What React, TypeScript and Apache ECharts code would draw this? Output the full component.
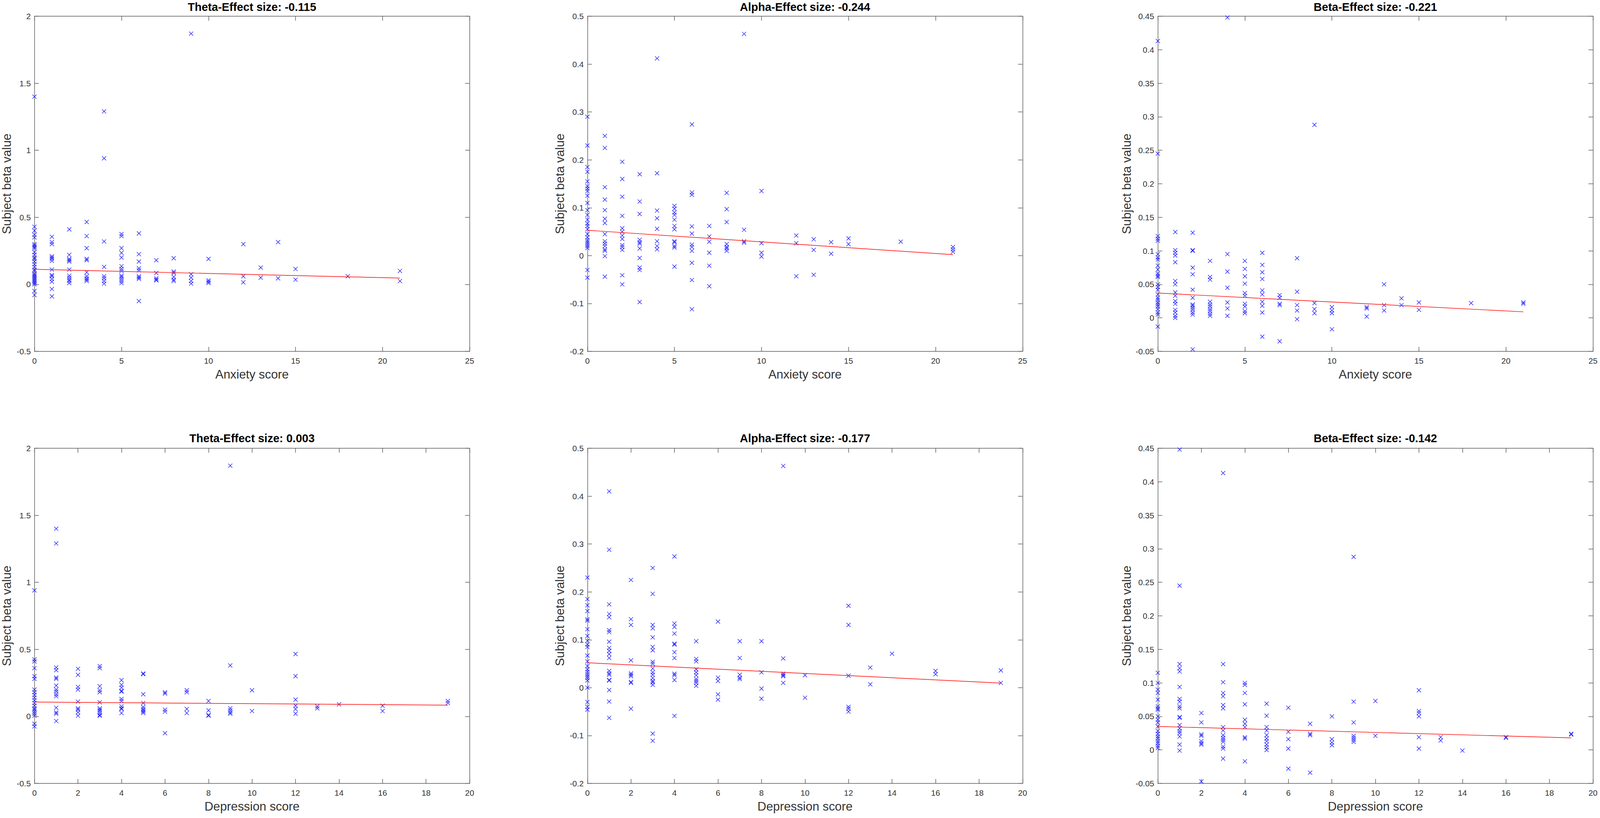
import React, { useEffect, useRef } from "react";
import * as echarts from "echarts";

type Column = [number, number[]];

// ---------- Tick / axis ranges ----------
const anxietyAxis = { min: 0, max: 25, interval: 5, name: "Anxiety score" };
const depressionAxis = { min: 0, max: 20, interval: 2, name: "Depression score" };
const thetaAxis = { min: -0.5, max: 2, interval: 0.5 };
const alphaAxis = { min: -0.2, max: 0.5, interval: 0.1 };
const betaAxis = { min: -0.05, max: 0.45, interval: 0.05 };

// ---------- Titles ----------
const titles = [
  "Theta-Effect size: -0.115",
  "Alpha-Effect size: -0.244",
  "Beta-Effect size: -0.221",
  "Theta-Effect size: 0.003",
  "Alpha-Effect size: -0.177",
  "Beta-Effect size: -0.142",
];

// ---------- Data: [score, subject beta values at that score] ----------
const thetaAnxiety: Column[] = [
  [0, [1.4, 0.43, 0.4, 0.37, 0.35, 0.3, 0.29, 0.28, 0.27, 0.24, 0.22, 0.2, 0.19, 0.17, 0.15, 0.13, 0.11, 0.1, 0.08, 0.07, 0.06, 0.05, 0.04, 0.03, 0.02, 0.01, 0.0, -0.05, -0.08]],
  [1, [0.355, 0.315, 0.3, 0.21, 0.2, 0.19, 0.175, 0.11, 0.07, 0.06, 0.04, 0.02, -0.035, -0.09]],
  [2, [0.41, 0.22, 0.19, 0.18, 0.17, 0.11, 0.065, 0.05, 0.035, 0.025, 0.01]],
  [3, [0.465, 0.36, 0.27, 0.19, 0.18, 0.09, 0.06, 0.045, 0.035, 0.025]],
  [4, [1.29, 0.94, 0.32, 0.13, 0.06, 0.045, 0.025, 0.005]],
  [5, [0.375, 0.36, 0.27, 0.235, 0.2, 0.135, 0.115, 0.1, 0.065, 0.055, 0.04, 0.025, 0.01]],
  [6, [0.38, 0.225, 0.17, 0.12, 0.105, 0.06, 0.05, 0.04, -0.125]],
  [7, [0.18, 0.085, 0.045, 0.035, 0.03]],
  [8, [0.195, 0.095, 0.085, 0.055, 0.035, 0.025]],
  [9, [1.87, 0.075, 0.05, 0.025, 0.005]],
  [10, [0.19, 0.03, 0.02, 0.01]],
  [12, [0.3, 0.06, 0.015]],
  [13, [0.125, 0.05]],
  [14, [0.315, 0.045]],
  [15, [0.115, 0.035]],
  [18, [0.06]],
  [21, [0.1, 0.025]],
];
const thetaAnxietyFit: [number, number][] = [[0, 0.112], [21, 0.047]];

const alphaAnxiety: Column[] = [
  [0, [0.29, 0.23, 0.185, 0.175, 0.155, 0.145, 0.14, 0.135, 0.125, 0.11, 0.095, 0.085, 0.075, 0.067, 0.062, 0.055, 0.045, 0.038, 0.032, 0.028, 0.024, 0.02, 0.016, -0.03, -0.046]],
  [1, [0.25, 0.225, 0.143, 0.117, 0.095, 0.077, 0.068, 0.045, 0.03, 0.025, 0.02, 0.013, 0.01, -0.001, -0.044]],
  [2, [0.196, 0.16, 0.123, 0.083, 0.057, 0.05, 0.042, 0.035, 0.022, 0.018, 0.012, -0.041, -0.06]],
  [3, [0.17, 0.113, 0.087, 0.033, 0.028, 0.025, 0.015, -0.005, -0.025, -0.03, -0.097]],
  [4, [0.412, 0.172, 0.094, 0.078, 0.056, 0.03, 0.02, 0.013]],
  [5, [0.104, 0.098, 0.09, 0.085, 0.075, 0.062, 0.055, 0.03, 0.028, 0.02, 0.017, -0.023]],
  [6, [0.274, 0.132, 0.127, 0.061, 0.046, 0.023, 0.018, 0.01, -0.015, -0.051, -0.112]],
  [7, [0.062, 0.04, 0.029, 0.006, -0.021, -0.064]],
  [8, [0.131, 0.097, 0.07, 0.024, 0.018, 0.015, 0.01]],
  [9, [0.463, 0.054, 0.03, 0.027]],
  [10, [0.135, 0.026, 0.006, -0.002]],
  [12, [0.042, 0.026, -0.043]],
  [13, [0.034, 0.012, -0.04]],
  [14, [0.028, 0.004]],
  [15, [0.036, 0.024]],
  [18, [0.029]],
  [21, [0.018, 0.013, 0.008]],
];
const alphaAnxietyFit: [number, number][] = [[0, 0.053], [21, 0.002]];

const betaAnxiety: Column[] = [
  [0, [0.413, 0.245, 0.122, 0.118, 0.115, 0.095, 0.09, 0.087, 0.078, 0.072, 0.066, 0.063, 0.061, 0.05, 0.046, 0.042, 0.035, 0.03, 0.027, 0.023, 0.02, 0.017, 0.013, 0.008, 0.005, -0.013]],
  [1, [0.128, 0.101, 0.097, 0.093, 0.083, 0.055, 0.05, 0.038, 0.033, 0.025, 0.021, 0.012, 0.008, 0.003, 0.0]],
  [2, [0.127, 0.101, 0.1, 0.075, 0.065, 0.042, 0.03, 0.02, 0.018, 0.015, 0.012, 0.008, 0.005, -0.047]],
  [3, [0.085, 0.061, 0.057, 0.024, 0.02, 0.017, 0.013, 0.01, 0.006, 0.003]],
  [4, [0.448, 0.095, 0.069, 0.045, 0.023, 0.014, 0.003]],
  [5, [0.085, 0.073, 0.062, 0.051, 0.037, 0.033, 0.021, 0.017, 0.01, 0.007]],
  [6, [0.097, 0.079, 0.068, 0.058, 0.041, 0.035, 0.024, 0.018, 0.008, -0.028]],
  [7, [0.034, 0.03, 0.021, 0.019, -0.035]],
  [8, [0.089, 0.039, 0.019, 0.011, -0.002]],
  [9, [0.288, 0.022, 0.013, 0.007]],
  [10, [0.016, 0.011, 0.007, -0.017]],
  [12, [0.016, 0.014, 0.002]],
  [13, [0.05, 0.019, 0.011]],
  [14, [0.029, 0.019]],
  [15, [0.023, 0.012]],
  [18, [0.022]],
  [21, [0.023, 0.021]],
];
const betaAnxietyFit: [number, number][] = [[0, 0.037], [21, 0.009]];

const thetaDepression: Column[] = [
  [0, [0.94, 0.425, 0.41, 0.36, 0.3, 0.28, 0.2, 0.18, 0.16, 0.14, 0.12, 0.1, 0.08, 0.06, 0.05, 0.035, 0.02, 0.005, -0.055, -0.075]],
  [1, [1.4, 1.29, 0.365, 0.345, 0.29, 0.28, 0.23, 0.2, 0.185, 0.165, 0.15, 0.065, 0.03, 0.02, -0.035]],
  [2, [0.355, 0.31, 0.22, 0.2, 0.11, 0.06, 0.05, 0.03, 0.005]],
  [3, [0.375, 0.36, 0.225, 0.195, 0.18, 0.105, 0.06, 0.05, 0.04, 0.025, 0.01, 0.005]],
  [4, [0.27, 0.235, 0.215, 0.19, 0.185, 0.13, 0.115, 0.075, 0.06, 0.055, 0.025]],
  [5, [0.32, 0.315, 0.165, 0.1, 0.07, 0.055, 0.045, 0.035, 0.025]],
  [6, [0.18, 0.17, 0.05, 0.035, -0.125]],
  [7, [0.195, 0.18, 0.055, 0.025]],
  [8, [0.115, 0.045, 0.01, 0.005]],
  [9, [1.87, 0.38, 0.06, 0.045, 0.03, 0.02]],
  [10, [0.195, 0.04]],
  [12, [0.465, 0.3, 0.125, 0.08, 0.055, 0.02]],
  [13, [0.075, 0.06]],
  [14, [0.09]],
  [16, [0.08, 0.04]],
  [19, [0.115, 0.1]],
];
const thetaDepressionFit: [number, number][] = [[0, 0.107], [19, 0.084]];

const alphaDepression: Column[] = [
  [0, [0.23, 0.185, 0.172, 0.16, 0.143, 0.14, 0.122, 0.108, 0.098, 0.09, 0.085, 0.067, 0.055, 0.045, 0.038, 0.033, 0.028, 0.024, 0.02, 0.015, 0.0, -0.03, -0.04, -0.046]],
  [1, [0.41, 0.288, 0.174, 0.154, 0.147, 0.12, 0.116, 0.096, 0.083, 0.077, 0.07, 0.062, 0.035, 0.03, 0.027, 0.016, 0.015, -0.005, -0.029, -0.063]],
  [2, [0.225, 0.143, 0.131, 0.057, 0.03, 0.027, 0.024, 0.012, 0.01, -0.044]],
  [3, [0.25, 0.196, 0.131, 0.124, 0.105, 0.085, 0.078, 0.054, 0.05, 0.04, 0.032, 0.027, 0.02, 0.014, 0.011, 0.006, -0.096, -0.111]],
  [4, [0.274, 0.134, 0.127, 0.113, 0.092, 0.09, 0.074, 0.062, 0.029, 0.026, 0.016, -0.059]],
  [5, [0.097, 0.06, 0.055, 0.038, 0.032, 0.026, 0.018, 0.014, 0.01, 0.004]],
  [6, [0.138, 0.021, 0.014, -0.014, -0.025]],
  [7, [0.097, 0.062, 0.027, 0.021, 0.018]],
  [8, [0.097, 0.032, -0.002, -0.023]],
  [9, [0.463, 0.061, 0.029, 0.026, 0.024, 0.01]],
  [10, [0.026, -0.021]],
  [12, [0.171, 0.131, 0.025, -0.04, -0.044, -0.05]],
  [13, [0.042, 0.007]],
  [14, [0.071]],
  [16, [0.035, 0.028]],
  [19, [0.036, 0.01]],
];
const alphaDepressionFit: [number, number][] = [[0, 0.052], [19, 0.0095]];

const betaDepression: Column[] = [
  [0, [0.115, 0.1, 0.09, 0.085, 0.075, 0.065, 0.062, 0.06, 0.05, 0.045, 0.041, 0.035, 0.028, 0.024, 0.02, 0.017, 0.013, 0.01, 0.006, 0.003]],
  [1, [0.448, 0.245, 0.128, 0.122, 0.117, 0.094, 0.076, 0.072, 0.065, 0.062, 0.049, 0.048, 0.037, 0.032, 0.028, 0.025, 0.02, 0.008, -0.001]],
  [2, [0.055, 0.041, 0.023, 0.021, 0.013, 0.01, 0.008, -0.047]],
  [3, [0.413, 0.128, 0.101, 0.085, 0.08, 0.067, 0.062, 0.034, 0.029, 0.022, 0.018, 0.015, 0.012, 0.005, 0.002, -0.013]],
  [4, [0.1, 0.097, 0.085, 0.068, 0.045, 0.039, 0.034, 0.019, 0.017, -0.017]],
  [5, [0.069, 0.051, 0.034, 0.029, 0.022, 0.017, 0.013, 0.008, 0.004, 0.0]],
  [6, [0.063, 0.027, 0.016, 0.002, -0.028]],
  [7, [0.039, 0.024, 0.022, -0.034]],
  [8, [0.05, 0.016, 0.011, 0.007]],
  [9, [0.288, 0.072, 0.041, 0.021, 0.018, 0.015, 0.012]],
  [10, [0.073, 0.021]],
  [12, [0.089, 0.058, 0.055, 0.05, 0.019, 0.002]],
  [13, [0.019, 0.014]],
  [14, [-0.001]],
  [16, [0.019, 0.018]],
  [19, [0.024, 0.023]],
];
const betaDepressionFit: [number, number][] = [[0, 0.035], [19, 0.018]];

// ---------- Layout (reference pixels, scaled to the real viewport) ----------
const REF_W = 4317;
const REF_H = 2094;
const PANEL_LEFTS = [93, 1585, 3124];
const PANEL_TOPS = [41.5, 1147.5];
const PANEL_W = 1174;
const PANEL_H = 858;
const TITLE_Y = [18, 1122];

const AXIS_COLOR = "#555555";
const TEXT_COLOR = "#333333";
const FONT = '"Liberation Sans", Arial, Helvetica, sans-serif';

const panels = [
  { x: anxietyAxis, y: thetaAxis, data: thetaAnxiety, fit: thetaAnxietyFit, yGap: 58 },
  { x: anxietyAxis, y: alphaAxis, data: alphaAnxiety, fit: alphaAnxietyFit, yGap: 58 },
  { x: anxietyAxis, y: betaAxis, data: betaAnxiety, fit: betaAnxietyFit, yGap: 68 },
  { x: depressionAxis, y: thetaAxis, data: thetaDepression, fit: thetaDepressionFit, yGap: 58 },
  { x: depressionAxis, y: alphaAxis, data: alphaDepression, fit: alphaDepressionFit, yGap: 58 },
  { x: depressionAxis, y: betaAxis, data: betaDepression, fit: betaDepressionFit, yGap: 68 },
];

function flatten(cols: Column[]): [number, number][] {
  const out: [number, number][] = [];
  cols.forEach(([x, ys]) => ys.forEach((y) => out.push([x, y])));
  return out;
}

function buildOption(w: number, h: number) {
  const sx = w / REF_W;
  const sy = h / REF_H;
  const s = Math.min(sx, sy);

  const grid: any[] = [];
  const xAxis: any[] = [];
  const yAxis: any[] = [];
  const series: any[] = [];
  const graphic: any[] = [];

  const tick = { show: true, inside: true, length: 12 * s, lineStyle: { color: AXIS_COLOR, width: 1.5 * s } };
  const line = { show: true, onZero: false, lineStyle: { color: AXIS_COLOR, width: 1.5 * s } };
  const label = { color: TEXT_COLOR, fontSize: 22 * s, fontFamily: FONT };

  panels.forEach((p, i) => {
    const col = i % 3;
    const row = Math.floor(i / 3);
    const left = PANEL_LEFTS[col] * sx;
    const top = PANEL_TOPS[row] * sy;
    const pw = PANEL_W * sx;
    const ph = PANEL_H * sy;
    grid.push({ left, top, width: pw, height: ph, containLabel: false, show: false });

    xAxis.push({
      type: "value",
      gridIndex: i,
      position: "bottom",
      min: p.x.min,
      max: p.x.max,
      interval: p.x.interval,
      name: p.x.name,
      nameLocation: "middle",
      nameGap: 46 * s,
      nameTextStyle: { color: TEXT_COLOR, fontSize: 33 * s, fontFamily: FONT },
      axisLine: line,
      axisTick: tick,
      axisLabel: { ...label, margin: 14 * s, showMinLabel: true, showMaxLabel: true },
      splitLine: { show: false },
    });
    xAxis.push({
      type: "value",
      gridIndex: i,
      position: "top",
      min: p.x.min,
      max: p.x.max,
      interval: p.x.interval,
      axisLine: line,
      axisTick: tick,
      axisLabel: { show: false },
      splitLine: { show: false },
    });
    yAxis.push({
      type: "value",
      gridIndex: i,
      position: "left",
      min: p.y.min,
      max: p.y.max,
      interval: p.y.interval,
      name: "Subject beta value",
      nameLocation: "middle",
      nameGap: p.yGap * s,
      nameTextStyle: { color: TEXT_COLOR, fontSize: 33 * s, fontFamily: FONT },
      axisLine: line,
      axisTick: tick,
      axisLabel: { ...label, margin: 10 * s, showMinLabel: true, showMaxLabel: true },
      splitLine: { show: false },
    });
    yAxis.push({
      type: "value",
      gridIndex: i,
      position: "right",
      min: p.y.min,
      max: p.y.max,
      interval: p.y.interval,
      axisLine: line,
      axisTick: tick,
      axisLabel: { show: false },
      splitLine: { show: false },
    });

    series.push({
      type: "scatter",
      xAxisIndex: 2 * i,
      yAxisIndex: 2 * i,
      data: flatten(p.data),
      symbol: "path://M0,0L10,10M10,0L0,10",
      symbolSize: 11 * s,
      clip: false,
      itemStyle: { color: "rgba(0,0,0,0)", borderColor: "#1a1aff", borderWidth: 1.4 * s, opacity: 1 },
      z: 3,
    });
    series.push({
      type: "line",
      xAxisIndex: 2 * i,
      yAxisIndex: 2 * i,
      data: p.fit,
      symbol: "none",
      lineStyle: { color: "#ff2020", width: 1.8 * s },
      z: 4,
    });

    graphic.push({
      type: "text",
      x: left + pw / 2,
      y: TITLE_Y[row] * sy,
      style: {
        text: titles[i],
        textAlign: "center",
        textVerticalAlign: "middle",
        font: `bold ${Math.round(31 * s)}px ${FONT}`,
        fill: "#000000",
      },
    });
  });

  return {
    animation: false,
    backgroundColor: "#ffffff",
    grid,
    xAxis,
    yAxis,
    series,
    graphic,
  };
}

export default function App() {
  const ref = useRef<HTMLDivElement>(null);
  useEffect(() => {
    if (!ref.current) return;
    const chart = echarts.init(ref.current, undefined, { renderer: "svg" });
    chart.setOption(buildOption(chart.getWidth(), chart.getHeight()) as any);
    return () => chart.dispose();
  }, []);
  return (
    <div
      ref={ref}
      style={{ position: "fixed", left: 0, top: 0, width: "100vw", height: "100vh", background: "#fff" }}
    />
  );
}
